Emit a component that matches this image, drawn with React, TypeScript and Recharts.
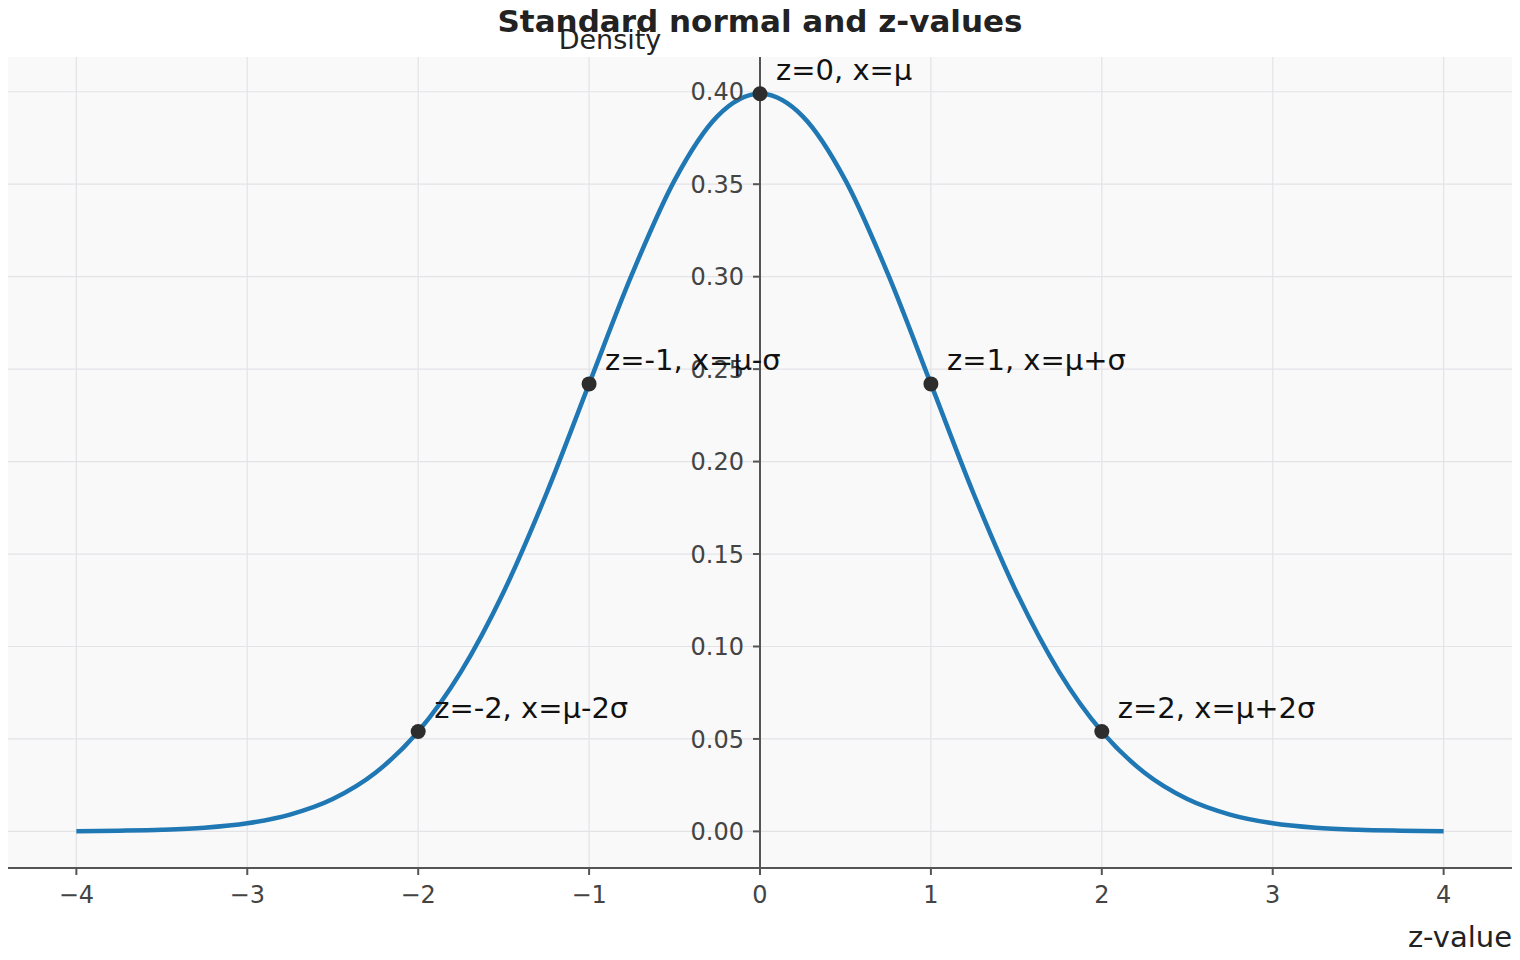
import React from "react";
import {
  ComposedChart,
  Line,
  XAxis,
  YAxis,
  CartesianGrid,
  ReferenceLine,
  ReferenceDot,
  Label,
} from "recharts";

// standard normal density, sampled every 0.25
const zValues = [
  -4, -3.75, -3.5, -3.25, -3, -2.75, -2.5, -2.25, -2, -1.75, -1.5, -1.25, -1, -0.75, -0.5, -0.25,
  0, 0.25, 0.5, 0.75, 1, 1.25, 1.5, 1.75, 2, 2.25, 2.5, 2.75, 3, 3.25, 3.5, 3.75, 4,
];
const densities = [
  0.0001, 0.0004, 0.0009, 0.002, 0.0044, 0.0091, 0.0175, 0.0317, 0.054, 0.0863, 0.1295, 0.1826,
  0.242, 0.3011, 0.3521, 0.3867, 0.3989, 0.3867, 0.3521, 0.3011, 0.242, 0.1826, 0.1295, 0.0863,
  0.054, 0.0317, 0.0175, 0.0091, 0.0044, 0.002, 0.0009, 0.0004, 0.0001,
];

// annotated points
const markZ = [-2, -1, 0, 1, 2];
const markDensity = [0.054, 0.242, 0.3989, 0.242, 0.054];
const markLabels = ["z=-2, x=μ-2σ", "z=-1, x=μ-σ", "z=0, x=μ", "z=1, x=μ+σ", "z=2, x=μ+2σ"];

const xTicks = [-4, -3, -2, -1, 0, 1, 2, 3, 4];
const yTicks = [0, 0.05, 0.1, 0.15, 0.2, 0.25, 0.3, 0.35, 0.4];

const curve = zValues.map((z, i) => ({ z, density: densities[i] }));

const FONT = "DejaVu Sans";
const W = 1504;
const H = 944;

const fmtX = (v: number) => (v < 0 ? "\u2212" + Math.abs(v) : String(v));

export default function App() {
  return (
    <div style={{ position: "relative", width: W, height: H, fontFamily: FONT }}>
      <ComposedChart
        width={W}
        height={H}
        data={curve}
        margin={{ top: 49, right: 0, bottom: 0, left: 0 }}
        style={{ fontFamily: FONT }}
      >
        <CartesianGrid
          stroke="#e3e3e8"
          strokeWidth={1.2}
          fill="#f9f9f9"
          fillOpacity={1}
          verticalValues={xTicks}
          horizontalValues={yTicks}
        />
        <XAxis
          dataKey="z"
          type="number"
          domain={[-4.4, 4.4]}
          ticks={xTicks}
          allowDataOverflow
          height={84}
          tickFormatter={fmtX}
          tick={{ fill: "#444", fontSize: 24, fontFamily: FONT }}
          tickSize={7}
          tickMargin={11}
          axisLine={{ stroke: "#555", strokeWidth: 2 }}
          tickLine={{ stroke: "#555", strokeWidth: 2 }}
        >
          <Label
            value="z-value"
            position="insideBottomRight"
            offset={0}
            dy={-5}
            fill="#222"
            fontSize={29}
            fontFamily={FONT}
          />
        </XAxis>
        <YAxis hide type="number" domain={[-0.0198, 0.4188]} allowDataOverflow />
        <ReferenceLine x={0} stroke="#555" strokeWidth={2} />
        {yTicks.map((v) => (
          <ReferenceDot
            key={"yt" + v}
            x={0}
            y={v}
            r={0}
            shape={(p: any) => (
              <g>
                <line x1={p.cx - 7} x2={p.cx} y1={p.cy} y2={p.cy} stroke="#555" strokeWidth={2} />
                <text
                  x={p.cx - 16}
                  y={p.cy}
                  dy="0.36em"
                  textAnchor="end"
                  fill="#444"
                  fontSize={24}
                  fontFamily={FONT}
                >
                  {v.toFixed(2)}
                </text>
              </g>
            )}
          />
        ))}
        <Line
          dataKey="density"
          type="monotone"
          stroke="#1f77b4"
          strokeWidth={4.5}
          dot={false}
          activeDot={false}
          isAnimationActive={false}
        />
        {markZ.map((z, i) => (
          <ReferenceDot
            key={"m" + z}
            x={z}
            y={markDensity[i]}
            r={7.5}
            shape={(p: any) => (
              <g>
                <circle cx={p.cx} cy={p.cy} r={7.5} fill="#2d2d2d" />
                <text x={p.cx + 16} y={p.cy - 14} fill="#111" fontSize={29} fontFamily={FONT}>
                  {markLabels[i]}
                </text>
              </g>
            )}
          />
        ))}
      </ComposedChart>
      <svg
        width={W}
        height={60}
        style={{ position: "absolute", left: 0, top: 0, pointerEvents: "none" }}
      >
        <text
          x={752}
          y={24}
          textAnchor="middle"
          fontSize={31}
          fontWeight="bold"
          fill="#222"
          fontFamily={FONT}
        >
          Standard normal and z-values
        </text>
        <text x={602} y={41} textAnchor="middle" fontSize={27} fill="#222" fontFamily={FONT}>
          Density
        </text>
      </svg>
    </div>
  );
}
